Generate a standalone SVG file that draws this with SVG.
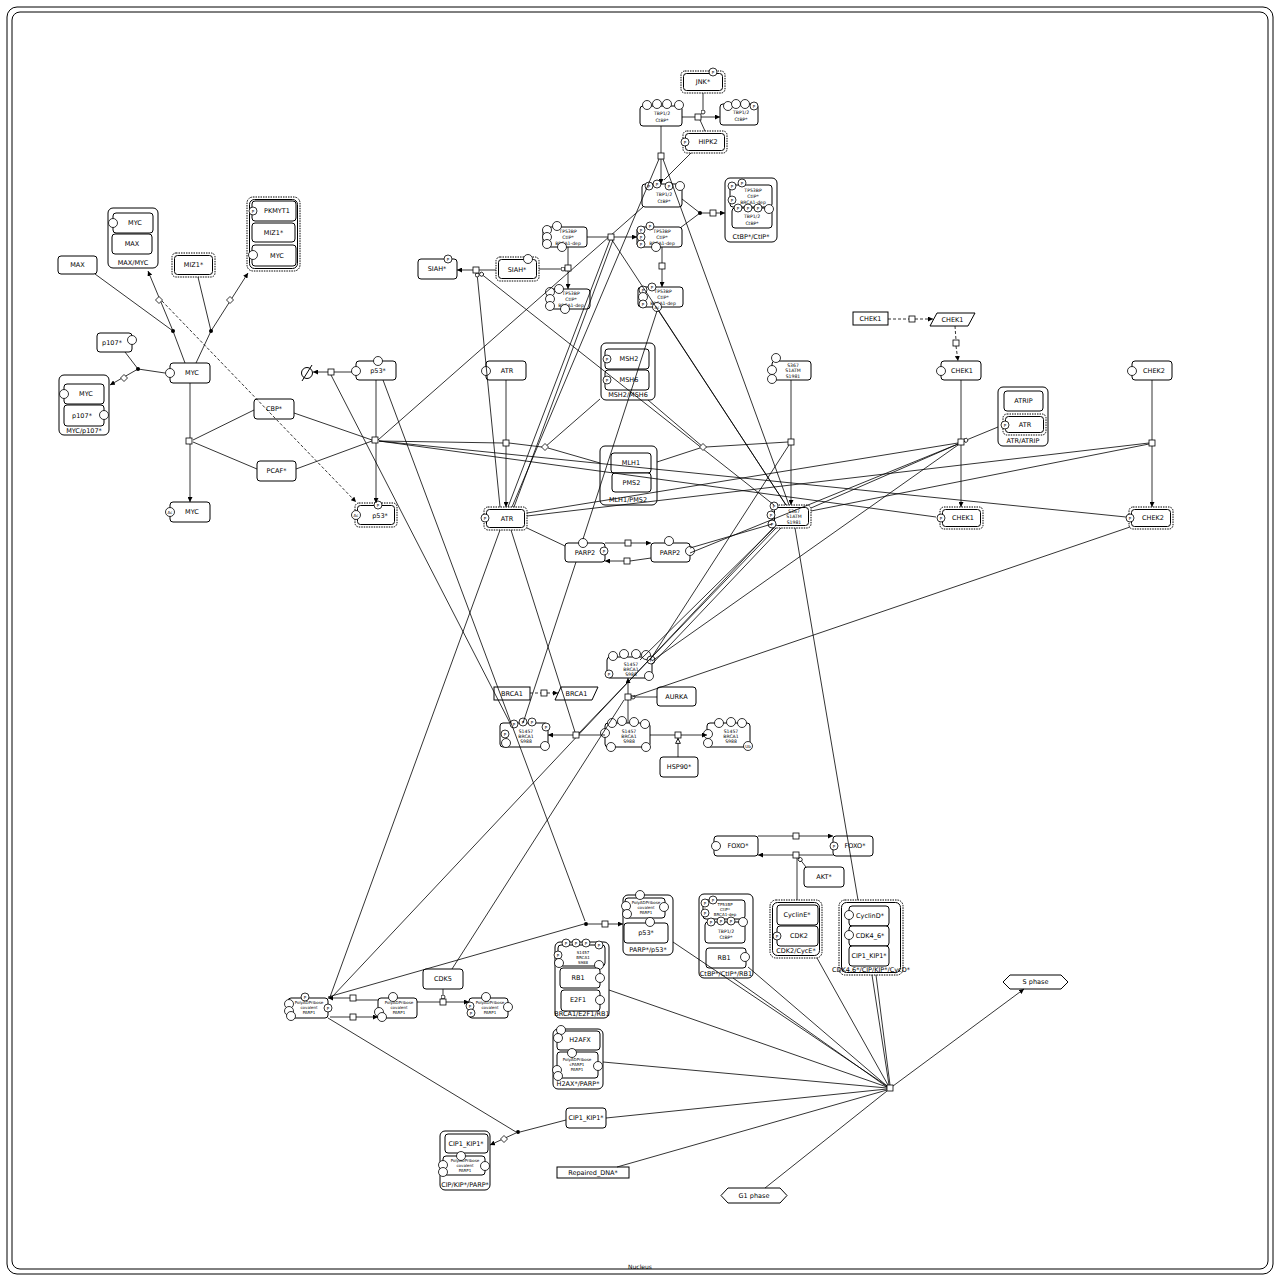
<svg xmlns="http://www.w3.org/2000/svg" width="1280" height="1280" viewBox="0 0 1280 1280">
<style>
.m{fill:#fff;stroke:#000;stroke-width:1}
.cx{fill:#fff;stroke:#000;stroke-width:1}
.mu{fill:#fff;stroke:#000;stroke-width:1;stroke-dasharray:1.5 1}
.in{fill:#fff;stroke:#000;stroke-width:1}
.sv{fill:#fff;stroke:#000;stroke-width:0.8}
.l{font-family:"DejaVu Sans","Liberation Sans",sans-serif;font-size:6.5px;text-anchor:middle;dominant-baseline:central;fill:#000}
.s{font-size:4.6px}
.t{font-size:4px}
.e path{stroke:#000;stroke-width:0.8;fill:none}
.e path.dash{stroke-dasharray:3 2}
.pn{fill:#fff;stroke:#000;stroke-width:0.8}
</style>
<defs>
<marker id="a" viewBox="0 0 10 10" refX="10" refY="5" markerWidth="5" markerHeight="5" orient="auto" markerUnits="userSpaceOnUse"><path d="M0 0L10 5L0 10z" fill="#000"/></marker>
<marker id="st" viewBox="0 0 10 10" refX="10" refY="5" markerWidth="6" markerHeight="6" orient="auto" markerUnits="userSpaceOnUse"><path d="M1 1L9 5L1 9z" fill="#fff" stroke="#000" stroke-width="1.5"/></marker>
<marker id="c" viewBox="0 0 10 10" refX="9" refY="5" markerWidth="5" markerHeight="5" orient="auto" markerUnits="userSpaceOnUse"><circle cx="5" cy="5" r="4" fill="#fff" stroke="#000" stroke-width="1.6"/></marker>
<g id="P"><circle class="sv" r="4"/><text class="l t" y="0.3">P</text></g>
<g id="O"><circle class="sv" r="4.5"/></g>
<g id="Ac"><circle class="sv" r="4.5"/><text class="l t" y="0.3">Ac</text></g>
<g id="Ub"><circle class="sv" r="4.5"/><text class="l t" y="0.3">Ub</text></g>
<rect id="pn" class="pn" x="-3" y="-3" width="6" height="6"/>
<path id="dm" class="pn" d="M0 -3.5L3.5 0L0 3.5L-3.5 0z"/>
<circle id="dot" r="2" fill="#000"/>
</defs>
<rect width="1280" height="1280" fill="#fff"/>

<!-- compartment -->
<g id="nucleus">
<rect x="7" y="7" width="1266" height="1267" rx="10" fill="none" stroke="#000" stroke-width="1"/>
<rect x="12" y="12" width="1256" height="1257" rx="8" fill="none" stroke="#000" stroke-width="1"/>
<text class="l" x="640" y="1266" style="font-size:6px">Nucleus</text>
</g>

<!-- MYC module -->
<g id="max"><rect class="m" x="58" y="256" width="39" height="18" rx="3"/><text class="l" x="77.5" y="265">MAX</text></g>
<g id="max_myc"><rect class="cx" x="108" y="208" width="50" height="60" rx="5"/>
<rect class="m" x="113" y="213" width="40" height="20" rx="3"/><text class="l" x="135" y="223">MYC</text><use href="#O" x="113" y="223"/>
<rect class="m" x="112" y="234" width="40" height="20" rx="3"/><text class="l" x="132" y="244">MAX</text>
<text class="l" x="133" y="263">MAX/MYC</text></g>
<g id="miz1"><rect class="mu" x="172" y="253" width="43" height="24" rx="4"/><rect class="in" x="174.5" y="255.5" width="38" height="19" rx="3"/><text class="l" x="193.5" y="265">MIZ1*</text></g>
<g id="pkmyt1_miz1_myc"><rect class="mu" x="247" y="197" width="53" height="74" rx="6"/><rect class="in" x="249.5" y="199.5" width="48" height="69" rx="5"/>
<rect class="m" x="252" y="201" width="44" height="20" rx="3"/><text class="l" x="277" y="211">PKMYT1</text><use href="#P" x="253" y="211"/>
<rect class="m" x="252" y="223" width="43" height="19" rx="3"/><text class="l" x="273.5" y="232.5">MIZ1*</text>
<rect class="m" x="252" y="245" width="44" height="21" rx="3"/><text class="l" x="277" y="255.5">MYC</text><use href="#O" x="253" y="255"/></g>
<g id="p107"><rect class="m" x="97" y="333" width="35" height="19" rx="3"/><text class="l" x="112" y="342.5">p107*</text><use href="#O" x="132" y="340"/></g>
<g id="myc"><rect class="m" x="170" y="363" width="40" height="20" rx="3"/><text class="l" x="192" y="373">MYC</text><use href="#O" x="170" y="373"/></g>
<g id="myc_p107"><rect class="cx" x="59" y="375" width="50" height="60" rx="5"/>
<rect class="m" x="64" y="384" width="40" height="20" rx="3"/><text class="l" x="86" y="394">MYC</text><use href="#O" x="64" y="394"/>
<rect class="m" x="64" y="405" width="40" height="21" rx="3"/><text class="l" x="82" y="415.5">p107*</text><use href="#O" x="104" y="415"/>
<text class="l" x="84" y="430.5">MYC/p107*</text></g>
<g id="cbp"><rect class="m" x="254" y="399" width="40" height="20" rx="3"/><text class="l" x="274" y="409">CBP*</text></g>
<g id="pcaf"><rect class="m" x="257" y="461" width="39" height="20" rx="3"/><text class="l" x="276.5" y="471">PCAF*</text></g>
<g id="myc_ac"><rect class="m" x="170" y="502" width="40" height="20" rx="3"/><text class="l" x="192" y="512">MYC</text><use href="#Ac" x="170" y="512"/></g>

<!-- p53 -->
<g id="p53"><rect class="m" x="356" y="361" width="40" height="19" rx="3"/><text class="l" x="378" y="371">p53*</text><use href="#O" x="356" y="371"/><use href="#O" x="378" y="361"/></g>
<g id="sink"><circle cx="307" cy="373" r="5.5" fill="#fff" stroke="#000" stroke-width="1"/><path d="M302 381L312 365" stroke="#000" stroke-width="1"/></g>
<g id="p53_p_ac"><rect class="mu" x="355" y="503" width="42" height="24" rx="4"/><rect class="in" x="357.5" y="505.5" width="37" height="19" rx="3"/><text class="l" x="380" y="516">p53*</text><use href="#P" x="378" y="505"/><use href="#Ac" x="356" y="515"/></g>

<!-- SIAH / CtIP / CtBP -->
<g id="siah_p"><rect class="m" x="418" y="259" width="39" height="20" rx="3"/><text class="l" x="437" y="269">SIAH*</text><use href="#P" x="448" y="259"/></g>
<g id="siah"><rect class="mu" x="496" y="257" width="43" height="24" rx="4"/><rect class="in" x="498.5" y="259.5" width="38" height="19" rx="3"/><text class="l" x="517" y="270">SIAH*</text><use href="#O" x="528" y="259"/></g>
<g id="ctip_a"><rect class="m" x="543" y="227" width="44" height="20" rx="3"/><text class="l s" x="568" y="231">TP53BP</text><text class="l s" x="568" y="237">CtIP*</text><text class="l s" x="568" y="243">BRCA1-dep</text>
<use href="#O" x="547" y="230"/><use href="#O" x="547" y="237"/><use href="#O" x="547" y="244"/><use href="#O" x="557" y="226"/><use href="#O" x="562" y="247"/></g>
<g id="ctip_b"><rect class="m" x="547" y="289" width="43" height="20" rx="3"/><text class="l s" x="571" y="293">TP53BP</text><text class="l s" x="571" y="299">CtIP*</text><text class="l s" x="571" y="305">BRCA1-dep</text>
<use href="#O" x="550" y="292"/><use href="#O" x="559" y="289"/><use href="#O" x="550" y="299"/><use href="#O" x="550" y="306"/><use href="#O" x="565" y="309"/></g>
<g id="ctip_c"><rect class="m" x="637" y="227" width="45" height="20" rx="3"/><text class="l s" x="662" y="231">TP53BP</text><text class="l s" x="662" y="237">CtIP*</text><text class="l s" x="662" y="243">BRCA1-dep</text>
<use href="#P" x="641" y="230"/><use href="#P" x="650" y="226"/><use href="#P" x="641" y="237"/><use href="#P" x="641" y="244"/><use href="#O" x="656" y="247"/></g>
<g id="ctip_d"><rect class="m" x="638" y="287" width="45" height="20" rx="3"/><text class="l s" x="663" y="291">TP53BP</text><text class="l s" x="663" y="297">CtIP*</text><text class="l s" x="663" y="303">BRCA1-dep</text>
<use href="#P" x="652" y="287"/><use href="#P" x="643" y="290"/><use href="#O" x="643" y="297"/><use href="#P" x="643" y="304"/><use href="#Ac" x="657" y="307"/></g>
<g id="jnk"><rect class="mu" x="681" y="71" width="44" height="22" rx="4"/><rect class="in" x="683.5" y="73.5" width="39" height="17" rx="3"/><text class="l" x="703" y="82">JNK*</text><use href="#P" x="713" y="72"/></g>
<g id="ctbp_a"><rect class="m" x="640" y="106" width="42" height="20" rx="3"/><text class="l s" x="662" y="113">TBP1/2</text><text class="l s" x="662" y="120">CtBP*</text>
<use href="#O" x="647" y="105"/><use href="#O" x="657" y="104"/><use href="#O" x="667" y="104"/><use href="#O" x="679" y="105"/></g>
<g id="ctbp_b"><rect class="m" x="720" y="104" width="38" height="21" rx="3"/><text class="l s" x="741" y="112">TBP1/2</text><text class="l s" x="741" y="119">CtBP*</text>
<use href="#O" x="728" y="106"/><use href="#O" x="736" y="104"/><use href="#O" x="745" y="104"/><use href="#P" x="754" y="106"/></g>
<g id="hipk2"><rect class="mu" x="683" y="131" width="44" height="22" rx="4"/><rect class="in" x="685.5" y="133.5" width="39" height="17" rx="3"/><text class="l" x="708" y="142">HIPK2</text><use href="#P" x="685" y="142"/></g>
<g id="ctbp_c"><rect class="m" x="642" y="184" width="40" height="23" rx="3"/><text class="l s" x="664" y="194">TBP1/2</text><text class="l s" x="664" y="201">CtBP*</text>
<use href="#P" x="649" y="186"/><use href="#P" x="657" y="184"/><use href="#P" x="669" y="186"/><use href="#O" x="680" y="186"/></g>
<g id="ctbp_ctip"><rect class="cx" x="725" y="178" width="52" height="64" rx="5"/>
<rect class="m" x="730" y="185" width="42" height="22" rx="3"/><text class="l s" x="753" y="190">TP53BP</text><text class="l s" x="753" y="196">CtIP*</text><text class="l s" x="753" y="202">BRCA1-dep</text>
<use href="#P" x="732" y="186"/><use href="#P" x="742" y="183"/><use href="#P" x="732" y="200"/>
<rect class="m" x="732" y="208" width="40" height="20" rx="3"/><text class="l s" x="752" y="216">TBP1/2</text><text class="l s" x="752" y="223">CtBP*</text>
<use href="#P" x="738" y="208"/><use href="#P" x="748" y="208"/><use href="#P" x="758" y="208"/><use href="#O" x="769" y="209"/>
<text class="l" x="751" y="237">CtBP*/CtIP*</text></g>

<!-- repair / checkpoint kinases -->
<g id="msh2_msh6"><rect class="cx" x="601" y="343" width="54" height="57" rx="5"/>
<rect class="m" x="605" y="349" width="44" height="20" rx="3"/><text class="l" x="629" y="359">MSH2</text><use href="#P" x="607" y="359"/>
<rect class="m" x="605" y="370" width="44" height="20" rx="3"/><text class="l" x="629" y="380">MSH6</text><use href="#P" x="607" y="380"/>
<text class="l" x="628" y="395">MSH2/MSH6</text></g>
<g id="atr"><rect class="m" x="486" y="361" width="40" height="19" rx="3"/><text class="l" x="507" y="371">ATR</text><use href="#O" x="486" y="371"/></g>
<g id="atm"><rect class="m" x="772" y="361" width="39" height="19" rx="3"/><text class="l s" x="793" y="365">S367</text><text class="l s" x="793" y="370.5">S1ATM</text><text class="l s" x="793" y="376">S1981</text>
<use href="#O" x="776" y="358"/><use href="#O" x="772" y="370"/><use href="#O" x="772" y="379"/></g>
<g id="chek1_gene"><rect x="853" y="312" width="35" height="13" fill="#fff" stroke="#000"/><text class="l" x="870.5" y="318.5">CHEK1</text></g>
<g id="chek1_rna"><polygon points="937,313 975,313 968,326 930,326" fill="#fff" stroke="#000"/><text class="l" x="952.5" y="319.5">CHEK1</text></g>
<g id="chek1"><rect class="m" x="941" y="361" width="40" height="19" rx="3"/><text class="l" x="962" y="371">CHEK1</text><use href="#O" x="941" y="371"/></g>
<g id="chek2"><rect class="m" x="1132" y="361" width="40" height="19" rx="3"/><text class="l" x="1154" y="371">CHEK2</text><use href="#O" x="1132" y="371"/></g>
<g id="atr_atrip"><rect class="cx" x="998" y="387" width="50" height="59" rx="5"/>
<rect class="m" x="1004" y="391" width="39" height="20" rx="3"/><text class="l" x="1023.5" y="401">ATRIP</text>
<rect class="mu" x="1003" y="414" width="43" height="21" rx="4"/><rect class="in" x="1005.5" y="416.5" width="38" height="16" rx="3"/><text class="l" x="1025" y="425">ATR</text><use href="#P" x="1005" y="425"/>
<text class="l" x="1023" y="441">ATR/ATRIP</text></g>
<g id="atm_p"><rect class="mu" x="772" y="505" width="39" height="23" rx="4"/><rect class="in" x="774.5" y="507.5" width="34" height="18" rx="3"/><text class="l s" x="794" y="511">S367</text><text class="l s" x="794" y="516.5">S1ATM</text><text class="l s" x="794" y="522">S1981</text>
<use href="#P" x="774" y="506"/><use href="#P" x="771" y="515"/><use href="#P" x="772" y="524"/></g>
<g id="chek1_p"><rect class="mu" x="940" y="507" width="43" height="22" rx="4"/><rect class="in" x="942.5" y="509.5" width="38" height="17" rx="3"/><text class="l" x="963" y="518">CHEK1</text><use href="#P" x="941" y="518"/></g>
<g id="chek2_p"><rect class="mu" x="1129" y="507" width="44" height="22" rx="4"/><rect class="in" x="1131.5" y="509.5" width="39" height="17" rx="3"/><text class="l" x="1153" y="518">CHEK2</text><use href="#P" x="1130" y="518"/></g>
<g id="mlh1_pms2"><rect class="cx" x="600" y="446" width="57" height="59" rx="5"/>
<rect class="m" x="611" y="453" width="40" height="20" rx="3"/><text class="l" x="631" y="463">MLH1</text>
<rect class="m" x="612" y="473" width="39" height="19" rx="3"/><text class="l" x="631.5" y="482.5">PMS2</text>
<text class="l" x="628" y="500">MLH1/PMS2</text></g>
<g id="atr_p"><rect class="mu" x="484" y="507" width="43" height="23" rx="4"/><rect class="in" x="486.5" y="509.5" width="38" height="18" rx="3"/><text class="l" x="507" y="518.5">ATR</text><use href="#P" x="485" y="518"/></g>
<g id="parp2_a"><rect class="m" x="565" y="543" width="40" height="19" rx="3"/><text class="l" x="585" y="553">PARP2</text><use href="#O" x="583" y="543"/><use href="#P" x="604" y="551"/></g>
<g id="parp2_b"><rect class="m" x="651" y="543" width="39" height="19" rx="3"/><text class="l" x="670" y="553">PARP2</text><use href="#O" x="669" y="541"/><use href="#O" x="690" y="551"/></g>

<!-- BRCA1 -->
<g id="brca1_gene"><rect x="494" y="687" width="36" height="13" fill="#fff" stroke="#000"/><text class="l" x="512" y="693.5">BRCA1</text></g>
<g id="brca1_rna"><polygon points="561,687 598,687 592,700 555,700" fill="#fff" stroke="#000"/><text class="l" x="576.5" y="693.5">BRCA1</text></g>
<g id="brca1_p"><rect class="m" x="500" y="723" width="48" height="24" rx="3"/><text class="l s" x="526" y="731">S1457</text><text class="l s" x="526" y="736">BRCA1</text><text class="l s" x="526" y="741">S988</text>
<use href="#P" x="514" y="724"/><use href="#P" x="523" y="722"/><use href="#P" x="532" y="722"/><use href="#P" x="546" y="727"/><use href="#P" x="505" y="734"/><use href="#O" x="506" y="743"/><use href="#O" x="545" y="746"/></g>
<g id="brca1_b"><rect class="m" x="605" y="723" width="45" height="24" rx="3"/><text class="l s" x="629" y="731">S1457</text><text class="l s" x="629" y="736">BRCA1</text><text class="l s" x="629" y="741">S988</text>
<use href="#O" x="612" y="723"/><use href="#O" x="622" y="721"/><use href="#O" x="634" y="722"/><use href="#O" x="645" y="724"/><use href="#O" x="605" y="733"/><use href="#O" x="611" y="747"/><use href="#O" x="646" y="747"/></g>
<g id="brca1_ub"><rect class="m" x="707" y="723" width="43" height="24" rx="3"/><text class="l s" x="731" y="731">S1457</text><text class="l s" x="731" y="736">BRCA1</text><text class="l s" x="731" y="741">S988</text>
<use href="#O" x="719" y="723"/><use href="#O" x="731" y="722"/><use href="#O" x="742" y="723"/><use href="#O" x="708" y="734"/><use href="#O" x="708" y="743"/><use href="#Ub" x="748" y="746"/></g>
<g id="brca1_c"><rect class="m" x="607" y="657" width="45" height="21" rx="3"/><text class="l s" x="631" y="664">S1457</text><text class="l s" x="631" y="669">BRCA1</text><text class="l s" x="631" y="674">S988</text>
<use href="#O" x="613" y="656"/><use href="#O" x="624" y="654"/><use href="#O" x="636" y="654"/><use href="#O" x="646" y="655"/><use href="#P" x="651" y="660"/><use href="#P" x="609" y="674"/><use href="#O" x="649" y="676"/></g>
<g id="aurka"><rect class="m" x="657" y="687" width="39" height="19" rx="3"/><text class="l" x="676.5" y="696.5">AURKA</text></g>
<g id="hsp90"><rect class="m" x="660" y="757" width="38" height="20" rx="3"/><text class="l" x="679" y="767">HSP90*</text></g>

<!-- cell-cycle module -->
<g id="foxo"><rect class="m" x="714" y="836" width="44" height="20" rx="3"/><text class="l" x="738" y="846">FOXO*</text><use href="#O" x="716" y="846"/></g>
<g id="foxo_p"><rect class="m" x="833" y="836" width="40" height="20" rx="3"/><text class="l" x="855" y="846">FOXO*</text><use href="#P" x="834" y="846"/></g>
<g id="akt"><rect class="m" x="804" y="867" width="40" height="20" rx="3"/><text class="l" x="824" y="877">AKT*</text></g>
<g id="parp_p53"><rect class="cx" x="623" y="895" width="50" height="60" rx="5"/>
<rect class="m" x="625" y="898" width="40" height="20" rx="3"/><text class="l t" x="646" y="902">PolyADPribose</text><text class="l t" x="646" y="907">covalent</text><text class="l t" x="646" y="912">PARP1</text>
<use href="#O" x="640" y="895"/><use href="#O" x="626" y="906"/><use href="#O" x="664" y="907"/><use href="#O" x="627" y="914"/>
<rect class="m" x="624" y="923" width="44" height="20" rx="3"/><text class="l" x="646" y="933">p53*</text><use href="#O" x="650" y="922"/>
<text class="l" x="648" y="950">PARP*/p53*</text></g>
<g id="ctbp_ctip_rb1"><rect class="cx" x="699" y="894" width="54" height="84" rx="5"/>
<rect class="m" x="703" y="900" width="42" height="19" rx="3"/><text class="l t" x="725" y="904">TP53BP</text><text class="l t" x="725" y="909">CtIP*</text><text class="l t" x="725" y="914">BRCA1-dep</text>
<use href="#P" x="705" y="903"/><use href="#P" x="713" y="900"/><use href="#P" x="705" y="913"/>
<rect class="m" x="705" y="922" width="40" height="21" rx="3"/><text class="l s" x="726" y="931">TBP1/2</text><text class="l s" x="726" y="937">CtBP*</text>
<use href="#P" x="711" y="922"/><use href="#P" x="721" y="921"/><use href="#P" x="731" y="921"/><use href="#O" x="743" y="922"/>
<rect class="m" x="706" y="948" width="40" height="20" rx="3"/><text class="l" x="724" y="958">RB1</text><use href="#O" x="745" y="957"/>
<text class="l" x="726" y="974">CtBP*/CtIP*/RB1</text></g>
<g id="cdk2_cyce"><rect class="mu" x="770" y="900" width="52" height="58" rx="6"/><rect class="in" x="772.5" y="902.5" width="47" height="53" rx="5"/>
<rect class="m" x="777" y="905" width="41" height="20" rx="3"/><text class="l" x="797" y="915">CyclinE*</text>
<rect class="m" x="777" y="926" width="41" height="20" rx="3"/><text class="l" x="799" y="936">CDK2</text><use href="#P" x="777" y="936"/>
<text class="l" x="796" y="951">CDK2/CycE*</text></g>
<g id="cdk46_cip_cycd"><rect class="mu" x="839" y="900" width="64" height="75" rx="6"/><rect class="in" x="841.5" y="902.5" width="59" height="70" rx="5"/>
<rect class="m" x="849" y="906" width="40" height="20" rx="3"/><text class="l" x="870" y="916">CyclinD*</text><use href="#O" x="849" y="915"/>
<rect class="m" x="849" y="926" width="40" height="20" rx="3"/><text class="l" x="870" y="936">CDK4_6*</text><use href="#O" x="849" y="935"/>
<rect class="m" x="849" y="946" width="40" height="20" rx="3"/><text class="l" x="869" y="956">CIP1_KIP1*</text>
<text class="l" x="871" y="970">CDK4,6*/CIP/KIP*/CycD*</text></g>
<g id="cdk5"><rect class="m" x="423" y="969" width="40" height="20" rx="3"/><text class="l" x="443" y="979">CDK5</text></g>
<g id="parp1_a"><rect class="m" x="288" y="998" width="40" height="20" rx="3"/><text class="l t" x="309" y="1002">PolyADPribose</text><text class="l t" x="309" y="1007">covalent</text><text class="l t" x="309" y="1012">PARP1</text>
<use href="#P" x="305" y="997"/><use href="#P" x="328" y="1008"/><use href="#O" x="289" y="1004"/><use href="#O" x="289" y="1011"/><use href="#O" x="291" y="1016"/></g>
<g id="parp1_b"><rect class="m" x="378" y="998" width="39" height="20" rx="3"/><text class="l t" x="399" y="1002">PolyADPribose</text><text class="l t" x="399" y="1007">covalent</text><text class="l t" x="399" y="1012">PARP1</text>
<use href="#O" x="393" y="997"/><use href="#O" x="379" y="1012"/><use href="#O" x="382" y="1017"/></g>
<g id="parp1_c"><rect class="m" x="469" y="998" width="39" height="20" rx="3"/><text class="l t" x="490" y="1002">PolyADPribose</text><text class="l t" x="490" y="1007">covalent</text><text class="l t" x="490" y="1012">PARP1</text>
<use href="#O" x="486" y="997"/><use href="#O" x="508" y="1007"/><use href="#P" x="470" y="1006"/><use href="#P" x="471" y="1013"/></g>
<g id="brca1_e2f1_rb1"><rect class="cx" x="555" y="942" width="54" height="76" rx="5"/>
<rect class="m" x="558" y="945" width="47" height="21" rx="3"/><text class="l t" x="583" y="952">S1457</text><text class="l t" x="583" y="957">BRCA1</text><text class="l t" x="583" y="962">S988</text>
<use href="#P" x="566" y="943"/><use href="#P" x="576" y="943"/><use href="#P" x="586" y="943"/><use href="#P" x="599" y="945"/><use href="#P" x="558" y="955"/><use href="#O" x="559" y="963"/><use href="#O" x="599" y="965"/>
<rect class="m" x="560" y="968" width="40" height="20" rx="3"/><text class="l" x="578" y="978">RB1</text><use href="#O" x="600" y="978"/>
<rect class="m" x="561" y="990" width="39" height="21" rx="3"/><text class="l" x="578" y="1000">E2F1</text><use href="#O" x="600" y="1000"/>
<text class="l" x="582" y="1013.5">BRCA1/E2F1/RB1</text></g>
<g id="h2ax_parp"><rect class="cx" x="553" y="1029" width="50" height="60" rx="5"/>
<rect class="m" x="557" y="1031" width="43" height="19" rx="3"/><text class="l" x="580" y="1040">H2AFX</text><use href="#O" x="561" y="1030"/><use href="#O" x="558" y="1038"/>
<rect class="m" x="557" y="1052" width="41" height="26" rx="3"/><text class="l t" x="577" y="1059">PolyADPribose</text><text class="l t" x="577" y="1064">cPARP1</text><text class="l t" x="577" y="1069">PARP1</text>
<use href="#O" x="572" y="1053"/><use href="#O" x="598" y="1066"/><use href="#O" x="557" y="1070"/><use href="#O" x="558" y="1076"/>
<text class="l" x="578" y="1084">H2AX*/PARP*</text></g>
<g id="cip1"><rect class="m" x="566" y="1108" width="40" height="20" rx="3"/><text class="l" x="586" y="1118">CIP1_KIP1*</text></g>
<g id="cip_parp"><rect class="cx" x="440" y="1131" width="50" height="59" rx="5"/>
<rect class="m" x="445" y="1134" width="43" height="19" rx="3"/><text class="l" x="466" y="1143.5">CIP1_KIP1*</text>
<rect class="m" x="443" y="1156" width="42" height="19" rx="3"/><text class="l t" x="465" y="1160">PolyADPribose</text><text class="l t" x="465" y="1165">covalent</text><text class="l t" x="465" y="1170">PARP1</text>
<use href="#O" x="461" y="1156"/><use href="#O" x="485" y="1166"/><use href="#O" x="443" y="1165"/><use href="#O" x="443" y="1172"/>
<text class="l" x="465" y="1185">CIP/KIP*/PARP*</text></g>
<g id="repaired_dna"><rect x="557" y="1167" width="72" height="11" fill="#fff" stroke="#000"/><text class="l" x="593" y="1172.5">Repaired_DNA*</text></g>
<g id="g1_phase"><polygon points="721,1195.5 728,1188 780,1188 787,1195.5 780,1203 728,1203" fill="#fff" stroke="#000"/><text class="l" x="754" y="1195.5">G1 phase</text></g>
<g id="s_phase"><polygon points="1003,982 1010,975 1061,975 1068,982 1061,989 1010,989" fill="#fff" stroke="#000"/><text class="l" x="1035.5" y="982">S phase</text></g>

<!-- arcs -->
<g id="connectors" class="e">
<!-- MYC -->
<path d="M95 274L173 331"/><path d="M185 363L173 331"/>
<path d="M173 331L148 271" marker-end="url(#a)"/>
<path d="M198 277L211 331"/><path d="M196 363L211 331"/>
<path d="M211 331L248 273" marker-end="url(#a)"/>
<path d="M125 352L138 369"/><path d="M165 373L138 369"/>
<path d="M138 369L110 385" marker-end="url(#a)"/>
<path d="M190 383V438"/><path d="M190 444V502" marker-end="url(#a)"/>
<path d="M254 410L193 440"/><path d="M257 469L193 442"/>
<path d="M294 413L372 440"/><path d="M296 469L372 441"/>
<path class="dash" d="M162 301L356 502" marker-end="url(#a)"/>
<!-- p53 -->
<path d="M352 372H334"/><path d="M328 372H313" marker-end="url(#a)"/>
<path d="M376 380V437"/><path d="M376 443V503" marker-end="url(#a)"/>
<path d="M331 375L510 723"/><path d="M383 380L585 921"/>
<!-- JNK / HIPK2 / CtBP -->
<path d="M682 117H695"/><path d="M701 117H720" marker-end="url(#a)"/>
<path d="M703 93V114" marker-end="url(#c)"/>
<path d="M705 131L700 120"/>
<path d="M661 126V153"/><path d="M661 159V184" marker-end="url(#a)"/>
<path d="M691 153L664 180"/>
<path d="M512 507L659 159"/><path d="M789 505L663 159"/>
<path d="M682 199L700 213"/><path d="M680 228L700 213"/>
<path d="M700 213H710"/><path d="M716 213H725" marker-end="url(#a)"/>
<path d="M587 237H608"/><path d="M614 237H637" marker-end="url(#a)"/>
<path d="M662 247V263"/><path d="M662 269V287" marker-end="url(#a)"/>
<path d="M568 247V265"/><path d="M568 271V289" marker-end="url(#a)"/>
<path d="M539 269H565" marker-end="url(#c)"/>
<path d="M496 270H479"/><path d="M473 270H457" marker-end="url(#a)"/>
<path d="M500 507L477 273" marker-end="url(#c)"/>
<path d="M774 505L480 273" marker-end="url(#c)"/>
<path d="M508 507L610 240"/><path d="M514 507L613 240"/>
<path d="M786 505L612 240"/>
<path d="M643 207L378 440"/>
<path d="M657 311L583 539"/><path d="M659 311L786 505"/>
<!-- mismatch repair / checkpoint -->
<path d="M600 399L545 447"/><path d="M648 400L703 447"/>
<path d="M379 441L503 443"/><path d="M509 443L542 447"/><path d="M548 448L600 463"/>
<path d="M703 447L657 462"/><path d="M706 447L788 442"/>
<path d="M791 380V439"/><path d="M791 445V505" marker-end="url(#a)"/>
<path d="M961 380V439"/><path d="M961 445V507" marker-end="url(#a)"/>
<path d="M1152 380V440"/><path d="M1152 446V507" marker-end="url(#a)"/>
<path d="M998 427L964 441" marker-end="url(#c)"/>
<path d="M506 380V440"/><path d="M506 446V507" marker-end="url(#a)"/>
<path class="dash" d="M888 319H909"/><path class="dash" d="M915 319H933" marker-end="url(#a)"/>
<path class="dash" d="M955 326L956 340"/><path class="dash" d="M956 346L958 361" marker-end="url(#a)"/>
<path d="M936 517L379 441"/><path d="M1126 517L379 441"/>
<path d="M527 513L958 443"/><path d="M527 516L1149 443"/>
<path d="M811 511L1149 444"/><path d="M811 508L958 444"/>
<path d="M690 553L958 444"/><path d="M652 661L958 445"/>
<path d="M650 660L789 445"/>
<!-- PARP2 -->
<path d="M527 528L565 546"/>
<path d="M605 543H625"/><path d="M631 543H651" marker-end="url(#a)"/>
<path d="M651 558L630 561"/><path d="M624 561H605" marker-end="url(#a)"/>
<path d="M690 548L772 524"/>
<!-- BRCA1 -->
<path class="dash" d="M530 693H541"/><path class="dash" d="M547 693H558" marker-end="url(#a)"/>
<path d="M605 735H579"/><path d="M573 735H548" marker-end="url(#a)"/>
<path d="M650 735H675"/><path d="M681 735H707" marker-end="url(#a)"/>
<path d="M678 757V738" marker-end="url(#st)"/>
<path d="M628 723V700"/><path d="M628 694V678" marker-end="url(#a)"/>
<path d="M657 697H631" marker-end="url(#c)"/>
<path d="M1130 527L632 697"/>
<path d="M776 528L579 733"/><path d="M781 528L652 664"/><path d="M774 528L640 660"/>
<path d="M511 530L575 732"/><path d="M576 562L523 723"/>
<!-- PolyADP-ribose / PARP1 -->
<path d="M332 997L773 528"/><path d="M330 997L500 530"/>
<path d="M452 969L624 700"/>
<path d="M328 997L584 924"/>
<path d="M588 924H602"/><path d="M608 924H623" marker-end="url(#a)"/>
<path d="M378 1000H356"/><path d="M350 998H328" marker-end="url(#a)"/>
<path d="M330 1017H350"/><path d="M356 1017H378" marker-end="url(#a)"/>
<path d="M417 1002H440"/><path d="M446 1002H469" marker-end="url(#a)"/>
<path d="M443 989V999" marker-end="url(#c)"/>
<path d="M328 1018L516 1132"/>
<path d="M566 1120L520 1132"/>
<path d="M516 1133L490 1145" marker-end="url(#a)"/>
<!-- FOXO -->
<path d="M758 836H793"/><path d="M799 836H833" marker-end="url(#a)"/>
<path d="M833 855H799"/><path d="M793 855H758" marker-end="url(#a)"/>
<path d="M806 867L799 858" marker-end="url(#c)"/>
<path d="M797 900V858"/>
<path d="M795 528L858 900"/>
<!-- G1/S transition -->
<path d="M609 990L887 1087"/><path d="M603 1062L887 1088"/>
<path d="M606 1118L887 1089"/><path d="M617 1167L887 1090"/>
<path d="M765 1188L887 1091"/><path d="M748 967L887 1086"/>
<path d="M733 978L887 1087"/><path d="M673 942L887 1086"/>
<path d="M817 958L888 1085"/><path d="M872 975L889 1085"/><path d="M876 975L890 1085"/>
<path d="M893 1086L1024 989" marker-end="url(#a)"/>
</g>

<!-- process nodes -->
<g id="process_nodes">
<use href="#pn" x="698" y="117"/><use href="#pn" x="661" y="156"/><use href="#pn" x="713" y="213"/>
<use href="#pn" x="611" y="237"/><use href="#pn" x="662" y="266"/><use href="#pn" x="568" y="268"/>
<use href="#pn" x="476" y="270"/><use href="#pn" x="331" y="372"/><use href="#pn" x="375" y="440"/>
<use href="#pn" x="189" y="441"/><use href="#pn" x="506" y="443"/><use href="#pn" x="791" y="442"/>
<use href="#pn" x="961" y="442"/><use href="#pn" x="1152" y="443"/><use href="#pn" x="912" y="319"/>
<use href="#pn" x="628" y="543"/><use href="#pn" x="627" y="561"/>
<use href="#pn" x="544" y="693"/><use href="#pn" x="576" y="735"/><use href="#pn" x="678" y="735"/><use href="#pn" x="628" y="697"/>
<use href="#pn" x="796" y="836"/><use href="#pn" x="796" y="855"/>
<use href="#pn" x="605" y="924"/><use href="#pn" x="353" y="998"/><use href="#pn" x="353" y="1017"/><use href="#pn" x="443" y="1002"/>
<use href="#pn" x="890" y="1088"/><use href="#pn" x="956" y="343"/>
<use href="#dm" x="159" y="300"/><use href="#dm" x="230" y="300"/><use href="#dm" x="124" y="378"/>
<use href="#dm" x="504" y="1139"/>
<use href="#dm" x="545" y="447"/><use href="#dm" x="703" y="447"/>
<use href="#dot" x="173" y="331"/><use href="#dot" x="211" y="331"/><use href="#dot" x="138" y="369"/>
<use href="#dot" x="700" y="213"/><use href="#dot" x="586" y="924"/><use href="#dot" x="518" y="1132"/>
</g>
</svg>
